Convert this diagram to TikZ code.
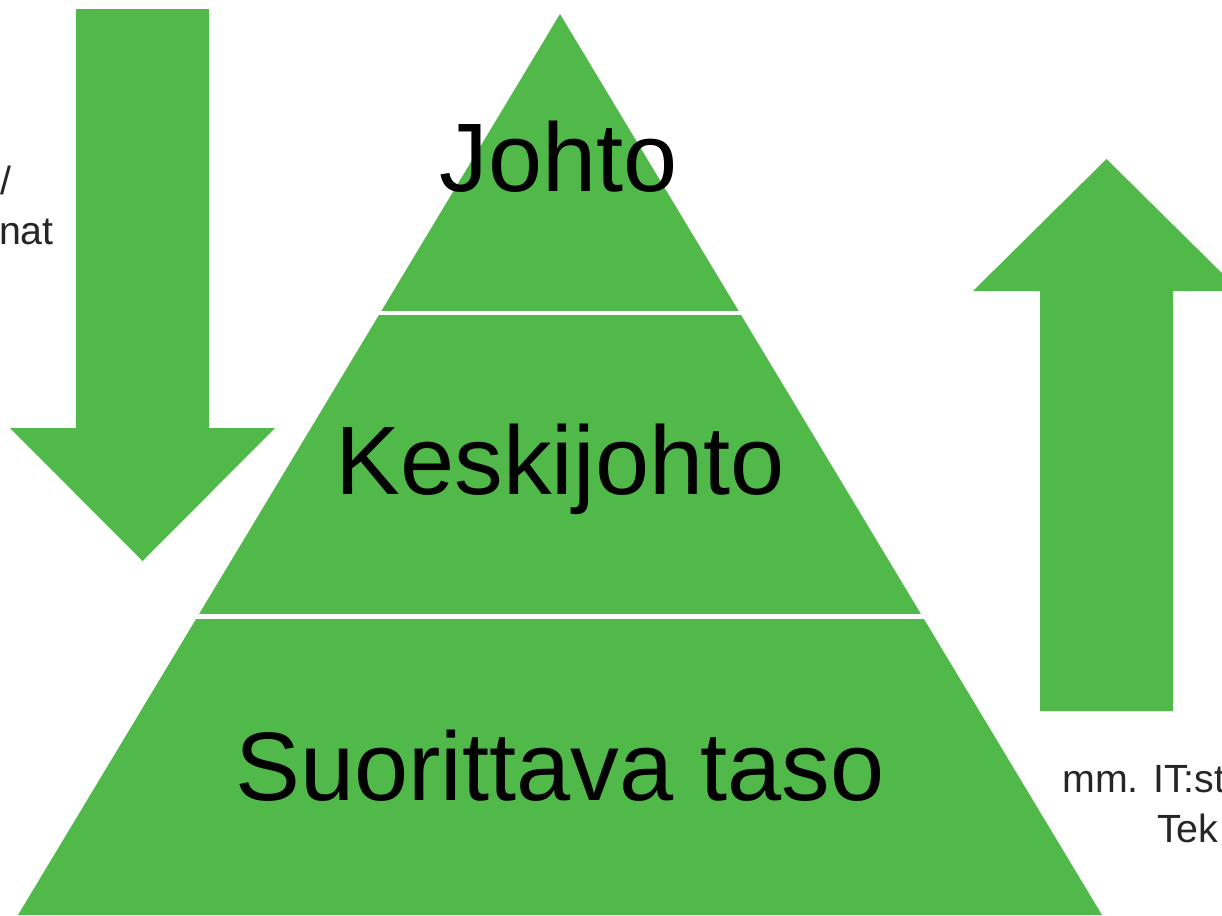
\documentclass[tikz,border=0pt]{standalone}
\usepackage{fontspec}
\setmainfont{Liberation Sans}
\definecolor{pyrgreen}{RGB}{81,185,74}
\tikzset{
  layerlabel/.style={anchor=base, font=\fontsize{73}{80}\selectfont},
  sidelabel/.style={text=black!85, font=\fontsize{29.5}{34}\selectfont, inner sep=0pt}
}
\begin{document}
\begin{tikzpicture}[x=0.75pt, y=-0.75pt]
\useasboundingbox (0,0) rectangle (1222,915);
\clip (0,0) rectangle (1222,915);

\fill[pyrgreen] (560,14) -- (1102,915) -- (18,915) -- cycle;
\draw[white, line width=3.3pt] (300,313) -- (820,313);
\draw[white, line width=3.6pt] (150,616.7) -- (970,616.7);

\fill[pyrgreen] (76,9) -- (209,9) -- (209,428) -- (275,428) -- (142.5,561)
      -- (10,428) -- (76,428) -- cycle;
\fill[pyrgreen] (1040,711) -- (1173,711) -- (1173,291) -- (1240,291)
      -- (1106.5,159) -- (973,291) -- (1040,291) -- cycle;

\node[layerlabel] (johto) at (559,191) {Johto};
\node[layerlabel] (keski) at (560,494) {Keskijohto};
\node[layerlabel] (suor) at (560,800) {Suorittava taso};

\node[sidelabel, anchor=base east] (slash) at (12,194) {/};
\node[sidelabel, anchor=base east] (nat) at (54,244) {nat};
\node[sidelabel, anchor=base west] (mm) at (1062,792) {mm. IT:st};
\node[sidelabel, anchor=base west] (tek) at (1157,842) {Tek};

\end{tikzpicture}
\end{document}
